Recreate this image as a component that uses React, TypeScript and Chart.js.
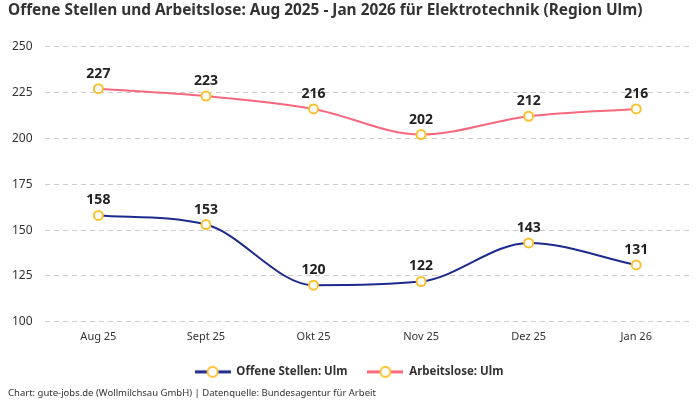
import React, { useEffect, useRef } from "react";
import { Chart, registerables } from "chart.js";

Chart.register(...registerables);

const categories = ["Aug 25", "Sept 25", "Okt 25", "Nov 25", "Dez 25", "Jan 26"];
const offeneStellen = [158, 153, 120, 122, 143, 131];
const arbeitslose = [227, 223, 216, 202, 212, 216];
const yTicks = [100, 125, 150, 175, 200, 225, 250];

const FONT = "'Noto Sans', sans-serif";
const BLUE = "#1b2a8c";
const PINK = "#f7687f";
const YELLOW = "#fbc02d";

function makeIcon(color: string): HTMLCanvasElement {
  const w = 36, h = 14;
  const c = document.createElement("canvas");
  c.width = w;
  c.height = h;
  const ctx = c.getContext("2d")!;
  ctx.strokeStyle = color;
  ctx.lineWidth = 3;
  ctx.beginPath();
  ctx.moveTo(0, h / 2);
  ctx.lineTo(w, h / 2);
  ctx.stroke();
  ctx.beginPath();
  ctx.arc(w / 2, h / 2, 5, 0, Math.PI * 2);
  ctx.fillStyle = "#ffffff";
  ctx.fill();
  ctx.strokeStyle = YELLOW;
  ctx.lineWidth = 2;
  ctx.stroke();
  return c;
}

const dataLabelPlugin = {
  id: "dataLabels",
  afterDatasetsDraw(chart: any) {
    const ctx = chart.ctx;
    ctx.save();
    ctx.font = `bold 14px ${FONT}`;
    ctx.fillStyle = "#222222";
    ctx.textAlign = "center";
    ctx.textBaseline = "middle";
    chart.data.datasets.forEach((ds: any, i: number) => {
      const meta = chart.getDatasetMeta(i);
      meta.data.forEach((pt: any, j: number) => {
        ctx.fillText(String(ds.data[j]), pt.x, pt.y - 15);
      });
    });
    ctx.restore();
  },
};

export default function App() {
  const ref = useRef<HTMLCanvasElement | null>(null);

  useEffect(() => {
    document.body.style.margin = "0";
    const blueIcon = makeIcon(BLUE);
    const pinkIcon = makeIcon(PINK);
    const chart = new Chart(ref.current!, {
      type: "line",
      data: {
        labels: categories,
        datasets: [
          {
            label: "Offene Stellen: Ulm",
            data: offeneStellen,
            borderColor: BLUE,
            backgroundColor: BLUE,
            borderWidth: 2,
            cubicInterpolationMode: "monotone",
            pointRadius: 4.5,
            pointBackgroundColor: "#ffffff",
            pointBorderColor: YELLOW,
            pointBorderWidth: 2,
          },
          {
            label: "Arbeitslose: Ulm",
            data: arbeitslose,
            borderColor: PINK,
            backgroundColor: PINK,
            borderWidth: 2,
            cubicInterpolationMode: "monotone",
            pointRadius: 4.5,
            pointBackgroundColor: "#ffffff",
            pointBorderColor: YELLOW,
            pointBorderWidth: 2,
          },
        ],
      },
      options: {
        animation: false,
        responsive: false,
        maintainAspectRatio: false,
        layout: { padding: { left: 8, right: 10, top: 0, bottom: 0 } },
        plugins: {
          title: {
            display: true,
            text: "Offene Stellen und Arbeitslose: Aug 2025 - Jan 2026 für Elektrotechnik (Region Ulm)",
            align: "start",
            color: "#333333",
            font: { family: FONT, size: 15.4, weight: "bold" },
            padding: { top: 1, bottom: 27 },
          },
          subtitle: {
            display: true,
            position: "bottom",
            align: "start",
            text: "Chart: gute-jobs.de (Wollmilchsau GmbH) | Datenquelle: Bundesagentur für Arbeit",
            color: "#333333",
            font: { family: FONT, size: 9.5 },
            padding: { top: 0, bottom: 1 },
          },
          legend: {
            position: "bottom",
            labels: {
              usePointStyle: true,
              pointStyleWidth: 36,
              boxHeight: 14,
              padding: 20,
              color: "#333333",
              font: { family: FONT, size: 11.5, weight: "bold" },
              generateLabels: (c: any) =>
                c.data.datasets.map((ds: any, i: number) => ({
                  text: ds.label,
                  pointStyle: i === 0 ? blueIcon : pinkIcon,
                  fillStyle: ds.borderColor,
                  strokeStyle: ds.borderColor,
                  fontColor: "#333333",
                  hidden: false,
                  datasetIndex: i,
                  lineWidth: 0,
                })),
            },
          },
          tooltip: { enabled: false },
        },
        scales: {
          x: {
            offset: true,
            grid: { display: false },
            border: { display: false },
            afterFit: (s: any) => {
              s.height += 3;
            },
            ticks: {
              color: "#333333",
              font: { family: FONT, size: 11 },
              padding: 0,
            },
          },
          y: {
            min: 100,
            max: 250,
            afterBuildTicks: (axis: any) => {
              axis.ticks = yTicks.map((v) => ({ value: v }));
            },
            afterFit: (s: any) => {
              s.width -= 8;
            },
            grid: {
              color: "#cccccc",
              lineWidth: 1,
              drawTicks: false,
            },
            border: { display: false, dash: [5, 4] },
            ticks: {
              color: "#333333",
              font: { family: FONT, size: 12 },
              padding: 12,
            },
          },
        },
      },
      plugins: [dataLabelPlugin],
    } as any);
    return () => chart.destroy();
  }, []);

  return (
    <div style={{ width: 700, height: 400 }}>
      <canvas ref={ref} width={700} height={400} style={{ width: 700, height: 400 }} />
    </div>
  );
}
